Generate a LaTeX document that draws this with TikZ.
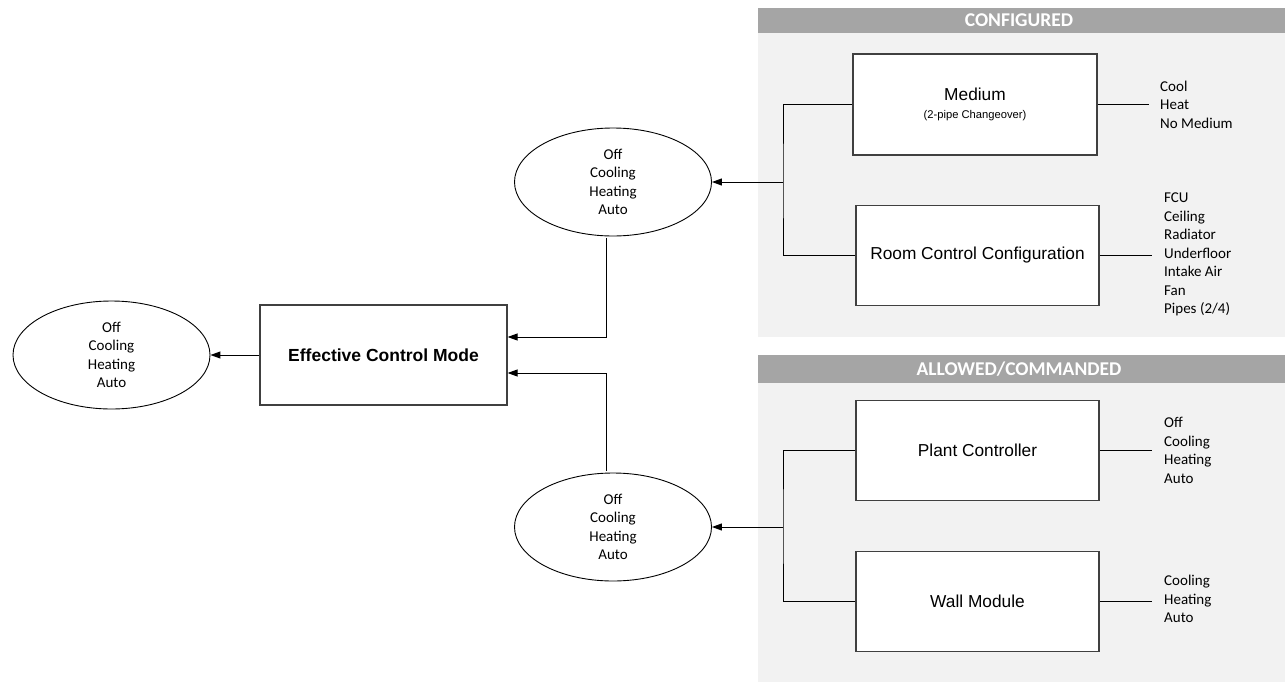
\documentclass[tikz,border=0pt]{standalone}
\usepackage{fontspec}
\setmainfont{Carlito}
\newfontfamily\arialf{Liberation Sans}
\usetikzlibrary{arrows.meta,shapes.geometric}
\definecolor{hdrgray}{HTML}{A5A5A5}
\definecolor{panelgray}{HTML}{F2F2F2}
\definecolor{linegray}{HTML}{404040}
\begin{document}
\begin{tikzpicture}[x=1pt,y=-1pt,
  mode/.style={ellipse,draw=black,line width=0.9pt,fill=white,minimum width=197pt,minimum height=108pt,inner sep=0pt,align=center,font=\fontsize{15}{18.5}\selectfont},
  blockbox/.style={rectangle,draw=linegray,line width=1.2pt,fill=white,minimum width=243pt,minimum height=100pt,inner sep=0pt,align=center,font=\arialf\fontsize{17.3}{20}\selectfont},
  listtxt/.style={anchor=west,align=left,inner sep=0pt,font=\fontsize{15}{18.5}\selectfont},
  hdr/.style={rectangle,fill=hdrgray,inner sep=0pt,text=white,font=\bfseries\fontsize{19.5}{22}\selectfont},
  conn/.style={draw=black,line width=1pt},
  arr/.style={conn,-{Triangle[length=10pt,width=7pt]}}
]
\useasboundingbox (0,0) rectangle (1285,683);
\fill[white] (0,0) rectangle (1285,683);

% panels
\fill[panelgray] (758,33) rectangle (1285,337);
\fill[hdrgray] (758,8) rectangle (1285,33);
\node[hdr] (hconf) at (1019,20.5) {CONFIGURED};
\fill[panelgray] (758,383) rectangle (1285,682);
\fill[hdrgray] (758,355) rectangle (1285,383);
\node[hdr] (hallow) at (1019,369) {ALLOWED/COMMANDED};

% left part
\node[mode] (outell) at (111.5,355) {Off\\Cooling\\Heating\\Auto};
\node[blockbox,minimum width=247pt,font=\arialf\bfseries\fontsize{17.5}{20}\selectfont] (ecm) at (383.5,355) {Effective Control Mode};
\node[mode] (upell) at (613,182) {Off\\Cooling\\Heating\\Auto};
\node[mode] (lowell) at (613,527) {Off\\Cooling\\Heating\\Auto};

% configured boxes
\node[blockbox,minimum width=244pt,minimum height=101pt] (med) at (975,104.5) {Medium\\[-2pt]{\fontsize{11.2}{13}\selectfont (2-pipe Changeover)}};
\node[blockbox] (room) at (977.5,255.5) {Room Control Configuration};

% allowed boxes
\node[blockbox] (plant) at (977.5,450.5) {Plant Controller};
\node[blockbox] (wall) at (977.5,601.5) {Wall Module};

% lists
\node[listtxt] (medlist) at (1160,104.5) {Cool\\Heat\\No Medium};
\node[listtxt] (roomlist) at (1164,254.5) {FCU\\Ceiling\\Radiator\\Underfloor\\Intake Air\\Fan\\Pipes (2/4)};
\node[listtxt] (plantlist) at (1164,450.5) {Off\\Cooling\\Heating\\Auto};
\node[listtxt] (walllist) at (1164,599) {Cooling\\Heating\\Auto};

% stubs to lists
\coordinate (medend) at (1149,104.5);
\coordinate (roomend) at (1152,255.5);
\coordinate (plantend) at (1152,450.5);
\coordinate (wallend) at (1152,601.5);
\draw[conn] (med.east) -- (medend);
\draw[conn] (room.east) -- (roomend);
\draw[conn] (plant.east) -- (plantend);
\draw[conn] (wall.east) -- (wallend);

% brackets
\coordinate (b1) at (783,182);
\coordinate (b2) at (783,527);
\draw[conn] (med.west) -| (b1) |- (room.west);
\draw[conn] (plant.west) -| (b2) |- (wall.west);
\draw[arr] (b1) -- (upell.east);
\draw[arr] (b2) -- (lowell.east);

% to effective control mode
\draw[arr] ([xshift=-7pt,yshift=-2pt]upell.south) |- ([yshift=18pt]ecm.east);
\draw[arr] ([xshift=-7pt,yshift=2pt]lowell.north) |- ([yshift=-18pt]ecm.east);
\draw[arr] (ecm.west) -- (outell.east);
\end{tikzpicture}
\end{document}
